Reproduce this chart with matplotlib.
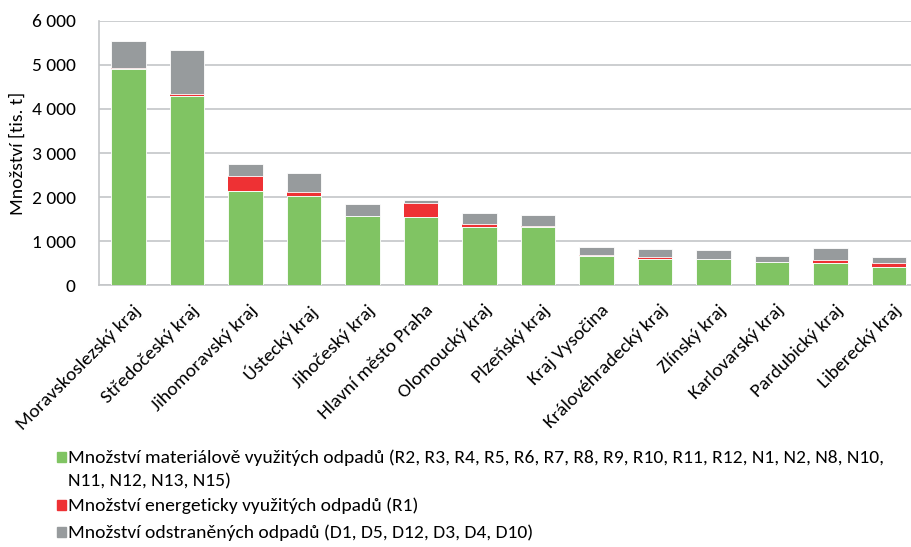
import matplotlib
matplotlib.use("Agg")
import matplotlib.pyplot as plt
from matplotlib.patches import Rectangle
from matplotlib.ticker import FuncFormatter
from matplotlib.transforms import ScaledTranslation
import numpy as np

regions = ["Moravskoslezský kraj", "Středočeský kraj", "Jihomoravský kraj", "Ústecký kraj",
           "Jihočeský kraj", "Hlavní město Praha", "Olomoucký kraj", "Plzeňský kraj",
           "Kraj Vysočina", "Královéhradecký kraj", "Zlínský kraj", "Karlovarský kraj",
           "Pardubický kraj", "Liberecký kraj"]
material = [4900, 4290, 2150, 2035, 1570, 1550, 1330, 1320, 665, 600, 597, 530, 505, 415]
energy = [30, 50, 330, 80, 5, 320, 60, 30, 20, 45, 5, 10, 70, 90]
removed = [610, 1000, 270, 440, 275, 60, 250, 235, 185, 180, 205, 125, 270, 130]
legend_labels = [
    ["Množství materiálově využitých odpadů (R2, R3, R4, R5, R6, R7, R8, R9, R10, R11, R12, N1, N2, N8, N10,",
     "N11, N12, N13, N15)"],
    ["Množství energeticky využitých odpadů (R1)"],
    ["Množství odstraněných odpadů (D1, D5, D12, D3, D4, D10)"],
]
yticks = [0, 1000, 2000, 3000, 4000, 5000, 6000]

FONT = ["Carlito", "DejaVu Sans"]
plt.rcParams["font.family"] = FONT

c_green = "#80c463"
c_red = "#ee3134"
c_gray = "#979b9d"
colors = [c_green, c_red, c_gray]

W, H = 912, 547
fig = plt.figure(figsize=(W / 100, H / 100), dpi=100)
ax = fig.add_axes([99.4 / W, 1 - 285.4 / H, 1 - 99.4 / W, (285.4 - 20.6) / H])

x = np.arange(len(regions))
w = 0.59
m = np.array(material)
e = np.array(energy)
r = np.array(removed)
ax.bar(x, m, w, color=c_green, edgecolor="white", linewidth=0.6, zorder=3)
ax.bar(x, e, w, bottom=m, color=c_red, linewidth=0.0, zorder=3)
ax.bar(x, r, w, bottom=m + e, color=c_gray, edgecolor="white", linewidth=0.6, zorder=3)

ax.set_xlim(-0.5, -0.5 + (W - 99.4) / 58.5)
ax.set_ylim(0, 6000)
ax.set_yticks(yticks)
ax.yaxis.set_major_formatter(FuncFormatter(lambda v, p: f"{int(v):,}".replace(",", " ")))
ax.grid(axis="y", color="#c4c6c8", linewidth=1.2, zorder=0)
for s in ["top", "right"]:
    ax.spines[s].set_visible(False)
for s in ["left", "bottom"]:
    ax.spines[s].set_color("#c4c6c8")
    ax.spines[s].set_linewidth(1.2)
ax.tick_params(axis="y", length=0, labelsize=14, pad=17)
ax.tick_params(axis="x", length=0, pad=12)
ax.set_xticks(x)
ax.set_xticklabels(regions, rotation=45, ha="right", va="top", rotation_mode="anchor", fontsize=14)
off = ScaledTranslation(4 / 100, 0, fig.dpi_scale_trans)
for lab in ax.get_xticklabels():
    lab.set_transform(lab.get_transform() + off)
ax.set_ylabel("Množství [tis. t]", fontsize=14, labelpad=4)

# legend (manual placement)
rows = [[457, 480], [505], [532]]
for lines, col, ys in zip(legend_labels, colors, rows):
    fig.patches.append(Rectangle((57 / W, 1 - (ys[0] + 5) / H), 9 / W, 10 / H,
                                 transform=fig.transFigure, color=col))
    for txt, yy in zip(lines, ys):
        fig.text(68 / W, 1 - (yy + 6) / H, txt, fontsize=14, va="baseline", ha="left")

fig.savefig("out.png", dpi=100)
